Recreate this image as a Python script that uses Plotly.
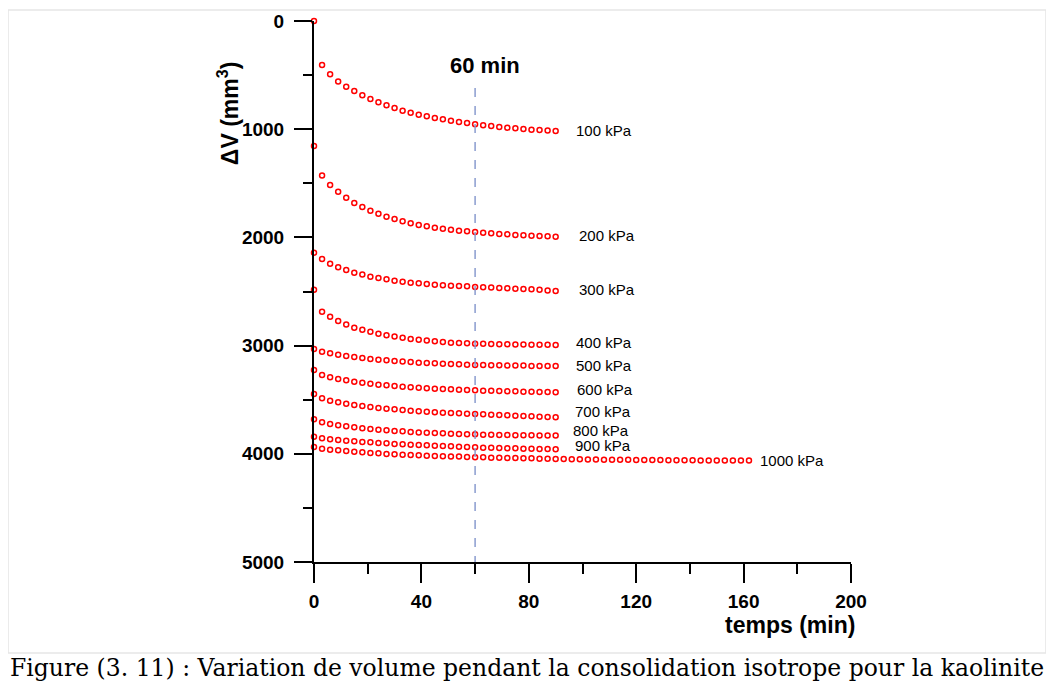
import plotly.graph_objects as go

# ============================================================
# DONNEES
# ============================================================

temps_90 = [0, 3, 6, 9, 12, 15, 18, 21, 24, 27, 30, 33, 36, 39, 42, 45, 48, 51, 54,
            57, 60, 63, 66, 69, 72, 75, 78, 81, 84, 87, 90]
temps_162 = temps_90 + [93, 96, 99, 102, 105, 108, 111, 114, 117, 120, 123, 126, 129,
                        132, 135, 138, 141, 144, 147, 150, 153, 156, 159, 162]

dv_100 = [0, 407, 493, 558, 607, 647, 687, 721, 752, 779, 804, 829, 847, 866, 881, 897,
          909, 921, 933, 943, 955, 964, 970, 980, 986, 992, 998, 1004, 1007, 1011, 1017]
dv_200 = [1155, 1429, 1516, 1577, 1633, 1682, 1719, 1753, 1781, 1808, 1830, 1851, 1870,
          1885, 1898, 1910, 1919, 1929, 1938, 1944, 1950, 1956, 1962, 1969, 1972, 1978,
          1981, 1984, 1987, 1990, 1993]
dv_300 = [2141, 2200, 2243, 2277, 2301, 2326, 2344, 2363, 2375, 2387, 2400, 2409, 2418,
          2424, 2431, 2437, 2443, 2446, 2449, 2452, 2458, 2461, 2464, 2467, 2470, 2474,
          2477, 2480, 2483, 2490, 2495]
dv_400 = [2483, 2686, 2733, 2772, 2806, 2834, 2853, 2871, 2890, 2905, 2917, 2927, 2939,
          2945, 2954, 2960, 2967, 2973, 2976, 2979, 2982, 2984, 2985, 2987, 2988, 2989,
          2990, 2991, 2992, 2993, 2994]
dv_500 = [3031, 3056, 3071, 3084, 3096, 3105, 3115, 3124, 3130, 3136, 3142, 3148, 3152,
          3158, 3161, 3164, 3167, 3170, 3173, 3176, 3179, 3179, 3182, 3182, 3185, 3185,
          3185, 3188, 3188, 3188, 3188]
dv_600 = [3226, 3272, 3293, 3309, 3321, 3333, 3343, 3352, 3361, 3367, 3373, 3380, 3386,
          3389, 3395, 3398, 3401, 3404, 3407, 3410, 3413, 3417, 3417, 3420, 3423, 3423,
          3426, 3426, 3429, 3429, 3432]
dv_700 = [3447, 3487, 3509, 3524, 3537, 3549, 3558, 3567, 3577, 3583, 3589, 3595, 3601,
          3607, 3611, 3617, 3620, 3623, 3626, 3629, 3632, 3635, 3638, 3641, 3644, 3648,
          3651, 3654, 3657, 3660, 3663]
dv_800 = [3681, 3709, 3725, 3737, 3746, 3755, 3765, 3771, 3777, 3783, 3789, 3792, 3798,
          3802, 3805, 3808, 3811, 3814, 3817, 3820, 3820, 3823, 3823, 3826, 3826, 3829,
          3829, 3829, 3832, 3832, 3832]
dv_900 = [3842, 3857, 3866, 3872, 3879, 3885, 3891, 3894, 3900, 3903, 3909, 3912, 3916,
          3919, 3922, 3925, 3928, 3931, 3934, 3937, 3940, 3943, 3943, 3946, 3949, 3949,
          3953, 3953, 3956, 3956, 3959]
dv_1000 = [3937, 3953, 3962, 3968, 3974, 3980, 3986, 3993, 3996, 4002, 4005, 4008, 4011,
           4014, 4017, 4020, 4023, 4026, 4026, 4029, 4033, 4033, 4036, 4036, 4039, 4039,
           4042, 4042, 4045, 4045, 4048,
           4049, 4050, 4051, 4052, 4053, 4054, 4055, 4055, 4056, 4057, 4057, 4058, 4058,
           4059, 4059, 4060, 4060, 4061, 4061, 4062, 4062, 4062, 4063, 4063]

pressions = ["100 kPa", "200 kPa", "300 kPa", "400 kPa", "500 kPa",
             "600 kPa", "700 kPa", "800 kPa", "900 kPa", "1000 kPa"]
series = [dv_100, dv_200, dv_300, dv_400, dv_500, dv_600, dv_700, dv_800, dv_900, dv_1000]
temps = [temps_90] * 9 + [temps_162]

x_ticks = [0, 40, 80, 120, 160, 200]
y_ticks = [0, 1000, 2000, 3000, 4000, 5000]
t_repere = 60

# decalages des etiquettes (pixels)
lab_dx = [18, 21, 21, 18, 18, 19, 17, 15, 17, 9]
lab_dy = [1, 1, 1, 2, 0, 3, 6, 5, 4, 0]

FONT = "Arial, Liberation Sans, sans-serif"

# ============================================================
# FIGURE
# ============================================================

fig = go.Figure()

for t, dv in zip(temps, series):
    fig.add_trace(go.Scatter(
        x=t, y=dv, mode="markers", cliponaxis=False, showlegend=False,
        marker=dict(symbol="circle-open", size=5, color="#FF0000",
                    line=dict(width=1.5, color="#FF0000"))
    ))

# ligne 60 min
fig.add_shape(type="line", x0=t_repere, x1=t_repere, y0=620, y1=5000,
              xref="x", yref="y", line=dict(color="#8A9CCF", width=1.5, dash="dash"))
fig.add_annotation(x=t_repere + 3.5, y=410, text="<b>60 min</b>", showarrow=False,
                   xanchor="center", yanchor="middle",
                   font=dict(family=FONT, size=22, color="black"))

for name, t, dv, dx, dy in zip(pressions, temps, series, lab_dx, lab_dy):
    fig.add_annotation(x=t[-1], y=dv[-1], text=name, showarrow=False,
                       xanchor="left", yanchor="middle", xshift=dx, yshift=dy,
                       font=dict(family=FONT, size=15, color="black"))

# titres des axes
fig.add_annotation(xref="paper", yref="paper", x=-0.160, y=0.828, textangle=-90,
                   xanchor="center", yanchor="middle",
                   text="<b>ΔV (mm<sup>3</sup>)</b>", showarrow=False,
                   font=dict(family=FONT, size=23, color="black"))
fig.add_annotation(xref="paper", yref="paper", x=1.011, y=-0.1165,
                   xanchor="right", yanchor="middle",
                   text="<b>temps (min)</b>", showarrow=False,
                   font=dict(family=FONT, size=23, color="black"))

# legende de la figure
fig.add_annotation(xref="paper", yref="paper", x=0.3966, y=-0.196,
                   xanchor="center", yanchor="middle",
                   text="Figure (3. 11) : Variation de volume pendant la consolidation isotrope pour la kaolinite",
                   showarrow=False,
                   font=dict(family="DejaVu Serif", size=23.5, color="black"))

# cadre gris clair
fig.add_shape(type="rect", xref="paper", yref="paper",
              x0=-0.5698, x1=1.3631, y0=-0.1682, y1=1.0203,
              line=dict(color="#E6E6E6", width=1.5), layer="below")

axis_font = dict(family=FONT, size=19, color="black", weight="bold")

fig.update_xaxes(
    range=[0, 200], tickvals=x_ticks, showgrid=False, zeroline=False, automargin=False,
    showline=True, linecolor="black", linewidth=2,
    ticks="outside", ticklen=19, tickwidth=2, tickcolor="black",
    ticklabelstandoff=2, tickfont=axis_font,
    minor=dict(dtick=20, ticks="outside", ticklen=10, tickwidth=2, tickcolor="black",
               showgrid=False)
)
fig.update_yaxes(
    range=[5000, 0], tickvals=y_ticks, showgrid=False, zeroline=False, automargin=False,
    showline=True, linecolor="black", linewidth=2,
    ticks="outside", ticklen=18, tickwidth=2, tickcolor="black",
    ticklabelstandoff=6, tickfont=axis_font,
    minor=dict(dtick=500, ticks="outside", ticklen=9, tickwidth=2, tickcolor="black",
               showgrid=False)
)

# la page ajoute une marge de 8 px : on la compense
fig.update_layout(
    width=1046, height=685,
    margin=dict(l=306, r=203, t=13, b=131),
    paper_bgcolor="white", plot_bgcolor="white",
    showlegend=False,
)

fig.write_html("out.html")
